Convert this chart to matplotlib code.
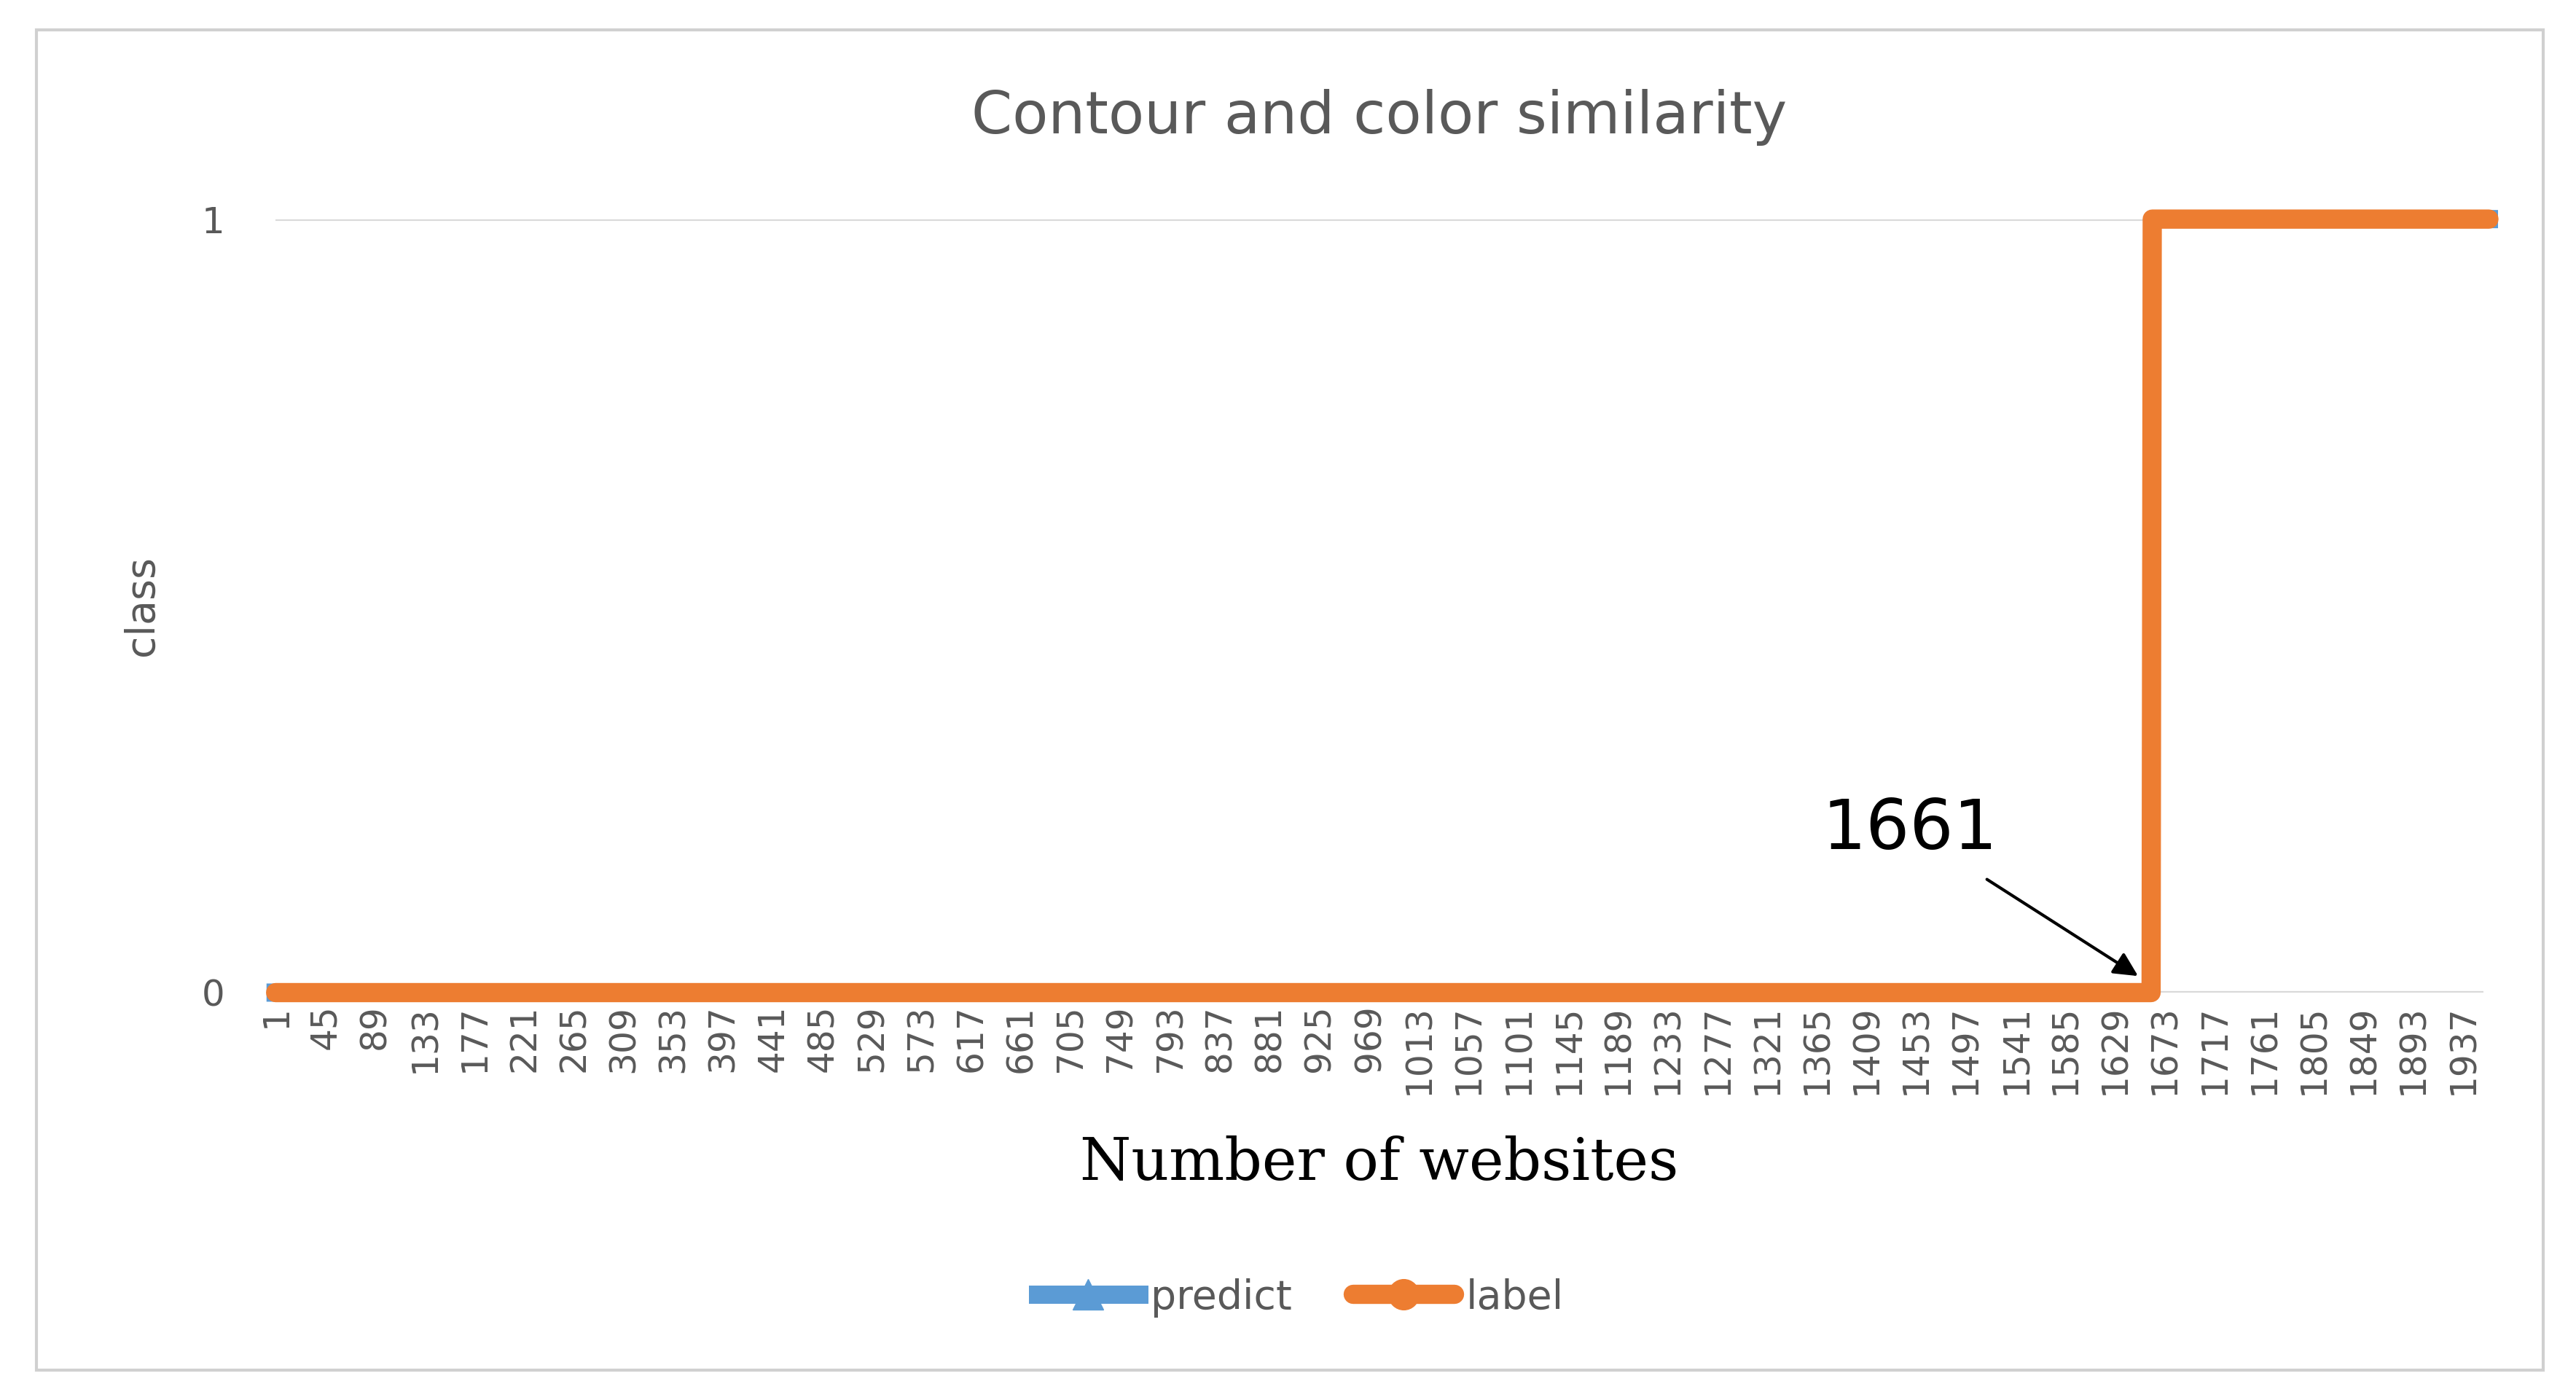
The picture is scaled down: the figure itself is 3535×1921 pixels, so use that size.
import numpy as np
import matplotlib
matplotlib.use('Agg')
import matplotlib.pyplot as plt
from matplotlib.patches import Rectangle

# data: website index, predicted class and true label
n_sites = 1960
switch_at = 1661
sites = np.arange(1, n_sites + 1)
label = np.where(sites > switch_at, 1, 0)
predict = label.copy()
tick_values = list(range(1, n_sites + 1, 44))

fig = plt.figure(figsize=(35.35, 19.21), dpi=100)
fig.patches.append(Rectangle((22 / 1568, 1 - 832 / 850), (1548 - 22) / 1568, (832 - 18) / 850,
                             transform=fig.transFigure, fill=False, edgecolor='#d0d0d0', lw=3))

ax = fig.add_axes([0.107, 0.291, 0.857, 0.5525])
ax.plot(sites, predict, color='#5b9bd5', lw=18, marker='^', markersize=6, clip_on=False, label='predict')
ax.plot(sites, label, color='#ed7d31', lw=19, marker='o', markersize=6, clip_on=False,
        solid_capstyle='round', label='label')
ax.set_xlim(1, 1955)
ax.set_ylim(0, 1)
ax.set_yticks([0, 1])
ax.set_xticks(tick_values)
ax.set_xticklabels([str(v) for v in tick_values], rotation=90, fontsize=35, color='#595959')
ax.tick_params(axis='y', labelsize=36, labelcolor='#595959', length=0, pad=50)
ax.tick_params(axis='x', length=0, pad=12)
ax.grid(axis='y', color='#d9d9d9', lw=3)
for s in ax.spines.values():
    s.set_visible(False)
ax.axhline(0, color='#d9d9d9', lw=3, zorder=0)

ax.set_title('Contour and color similarity', fontsize=58, color='#595959', pad=85)
ax.set_ylabel('class', fontsize=40, color='#595959', labelpad=40)
ax.set_xlabel('Number of websites', fontsize=58, family='DejaVu Serif', labelpad=40)

ax.annotate('1661', xy=(switch_at - 10, 0.02), xytext=(1370, 0.21), fontsize=68,
            arrowprops=dict(arrowstyle='-|>', color='black', lw=3, mutation_scale=50,
                            shrinkA=25),
            ha='left', va='center')

fig.legend(loc='center', bbox_to_anchor=(0.505, 0.073), ncol=2, frameon=False,
           fontsize=40, labelcolor='#595959', handlelength=2.5, columnspacing=1.5,
           markerscale=5, handletextpad=0.3)

plt.savefig('out.png', dpi=100)
